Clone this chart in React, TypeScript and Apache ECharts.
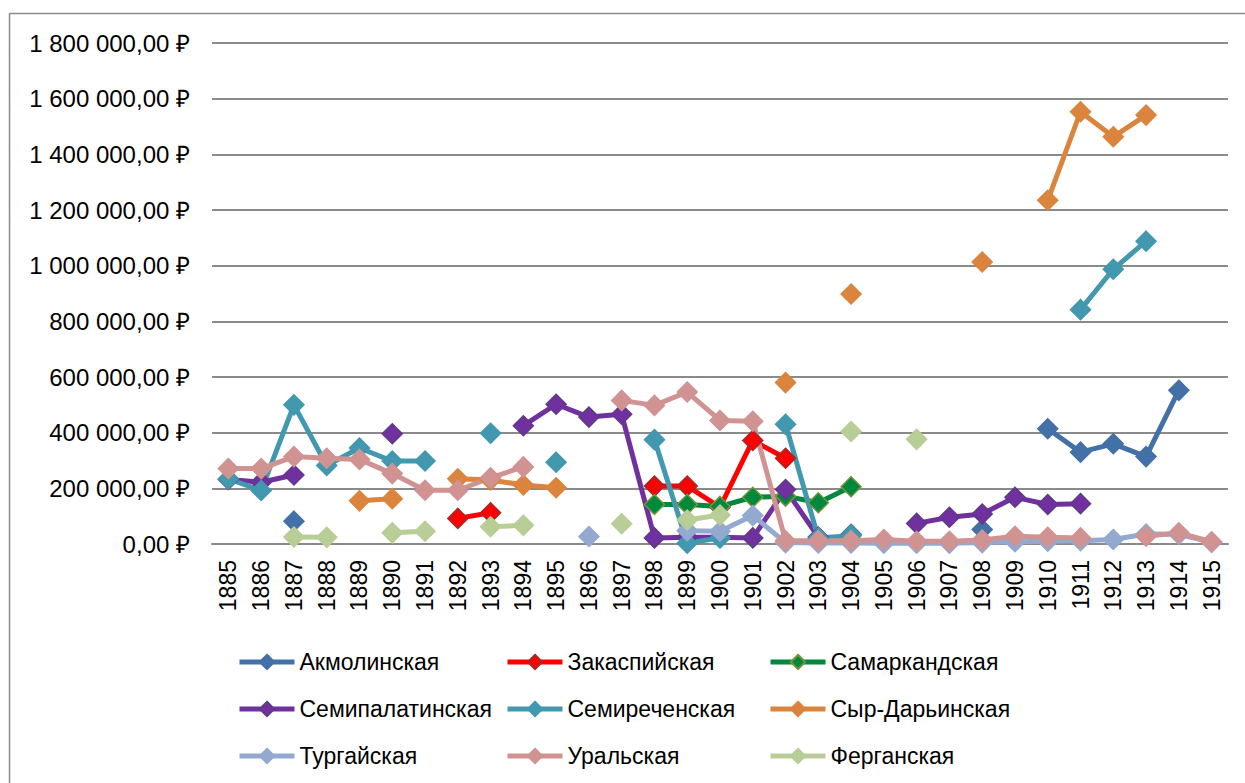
import React, { useEffect, useRef } from "react";
import * as echarts from "echarts";

const years = [
  "1885", "1886", "1887", "1888", "1889", "1890", "1891", "1892", "1893", "1894",
  "1895", "1896", "1897", "1898", "1899", "1900", "1901", "1902", "1903", "1904",
  "1905", "1906", "1907", "1908", "1909", "1910", "1911", "1912", "1913", "1914", "1915",
];

const _ = null;
const akmolinskaya = [_, _, 82000, _, _, _, _, _, _, _, _, _, _, _, _, _, _, _, _, 35000, _, _, _, 52000, _, 414000, 330000, 360000, 314000, 552000, _];
const zakaspiyskaya = [_, _, _, _, _, _, _, 92000, 112000, _, _, _, _, 208000, 208000, 132000, 372000, 308000, _, _, _, _, _, _, _, _, _, _, _, _, _];
const samarkandskaya = [_, _, _, _, _, _, _, _, _, _, _, _, _, 142000, 142000, 135000, 168000, 172000, 148000, 206000, _, _, _, _, _, _, _, _, _, _, _];
const semipalatinskaya = [232000, 222000, 248000, _, _, 396000, _, _, _, 425000, 502000, 456000, 466000, 22000, 24000, 24000, 22000, 196000, 25000, _, _, 74000, 96000, 108000, 168000, 142000, 145000, _, _, _, _];
const semirechenskaya = [234000, 192000, 500000, 282000, 345000, 298000, 298000, _, 398000, _, 294000, _, _, 375000, 3000, 22000, _, 430000, 22000, 30000, _, _, _, _, _, _, 842000, 987000, 1088000, _, _];
const syrDaryinskaya = [_, _, _, _, 155000, 163000, _, 234000, 230000, 212000, 202000, _, _, _, _, _, _, 580000, _, 898000, _, _, _, 1013000, _, 1235000, 1553000, 1463000, 1541000, _, _];
const turgayskaya = [_, _, _, _, _, _, _, _, _, _, _, 27000, _, _, 48000, 46000, 102000, 5000, 4000, 4000, 3000, 3000, 3000, 5000, 8000, 10000, 12000, 16000, 36000, 35000, 6000];
const uralskaya = [271000, 271000, 314000, 308000, 304000, 253000, 193000, 193000, 238000, 277000, _, _, 516000, 498000, 546000, 444000, 441000, 12000, 12000, 12000, 16000, 10000, 10000, 14000, 28000, 24000, 22000, _, 28000, 40000, 8000];
const ferganskaya = [_, _, 25000, 24000, _, 40000, 46000, _, 62000, 67000, _, _, 73000, _, 86000, 104000, _, _, _, 404000, _, 376000, _, _, _, _, _, _, _, _, _];

const seriesNames = [
  "Акмолинская", "Закаспийская", "Самаркандская",
  "Семипалатинская", "Семиреченская", "Сыр-Дарьинская",
  "Тургайская", "Уральская", "Ферганская",
];
const seriesData = [
  akmolinskaya, zakaspiyskaya, samarkandskaya,
  semipalatinskaya, semirechenskaya, syrDaryinskaya,
  turgayskaya, uralskaya, ferganskaya,
];
const lineColors = ["#4470A8", "#FF0000", "#00883C", "#7030A0", "#4198AF", "#DB843D", "#93A9D0", "#D19392", "#B9CD96"];
const borderColors = ["#4470A8", "#A52A2A", "#77933C", "#5F3B86", "#4198AF", "#DB843D", "#93A9D0", "#D19392", "#B9CD96"];

const yTicks = { min: 0, max: 1800000, interval: 200000 };

const FONT = "'Liberation Sans', Arial, sans-serif";

function formatRub(v: number): string {
  const s = Math.round(v).toString().replace(/\B(?=(\d{3})+(?!\d))/g, " ");
  return s + ",00 ₽";
}

export default function App() {
  const ref = useRef<HTMLDivElement>(null);
  useEffect(() => {
    if (!ref.current) return;
    const chart = echarts.init(ref.current, null, { renderer: "svg" });
    const legendCols = [
      { left: 232, names: [seriesNames[0], seriesNames[3], seriesNames[6]] },
      { left: 500, names: [seriesNames[1], seriesNames[4], seriesNames[7]] },
      { left: 763, names: [seriesNames[2], seriesNames[5], seriesNames[8]] },
    ];
    chart.setOption({
      animation: false,
      backgroundColor: "#ffffff",
      graphic: [
        { type: "line", shape: { x1: 9.5, y1: 13.5, x2: 1245, y2: 13.5 }, style: { stroke: "#8a8a8a", lineWidth: 1.5 } },
        { type: "line", shape: { x1: 9.5, y1: 13.5, x2: 9.5, y2: 783 }, style: { stroke: "#8a8a8a", lineWidth: 1.5 } },
      ],
      grid: { left: 212, top: 43, width: 1016, height: 501, containLabel: false },
      legend: legendCols.map((c) => ({
        orient: "vertical",
        left: c.left,
        top: 645,
        itemWidth: 55,
        itemHeight: 18,
        itemGap: 23,
        data: c.names,
        lineStyle: { width: 5 },
        textStyle: { fontFamily: FONT, fontSize: 23, color: "#000", lineHeight: 24 },
      })),
      xAxis: {
        type: "category",
        data: years,
        boundaryGap: true,
        axisLine: { lineStyle: { color: "#8a8a8a", width: 2 } },
        axisTick: { show: false },
        axisLabel: { rotate: 90, interval: 0, fontFamily: FONT, fontSize: 23, color: "#000", margin: 16 },
      },
      yAxis: {
        type: "value",
        min: yTicks.min,
        max: yTicks.max,
        interval: yTicks.interval,
        axisLine: { show: false },
        axisTick: { show: false },
        splitLine: { lineStyle: { color: "#8a8a8a", width: 2 } },
        axisLabel: { formatter: (v: number) => formatRub(v), fontFamily: FONT, fontSize: 24, color: "#000", margin: 22 },
      },
      series: seriesNames.map((name, i) => ({
        name,
        type: "line",
        data: seriesData[i],
        connectNulls: false,
        showAllSymbol: true,
        symbol: "diamond",
        symbolSize: 20,
        lineStyle: { color: lineColors[i], width: 5 },
        itemStyle: { color: lineColors[i], borderColor: borderColors[i], borderWidth: 1.5 },
        emphasis: { disabled: true },
      })),
    });
    return () => chart.dispose();
  }, []);
  return <div ref={ref} style={{ position: "absolute", left: 0, top: 0, width: 1245, height: 783 }} />;
}
